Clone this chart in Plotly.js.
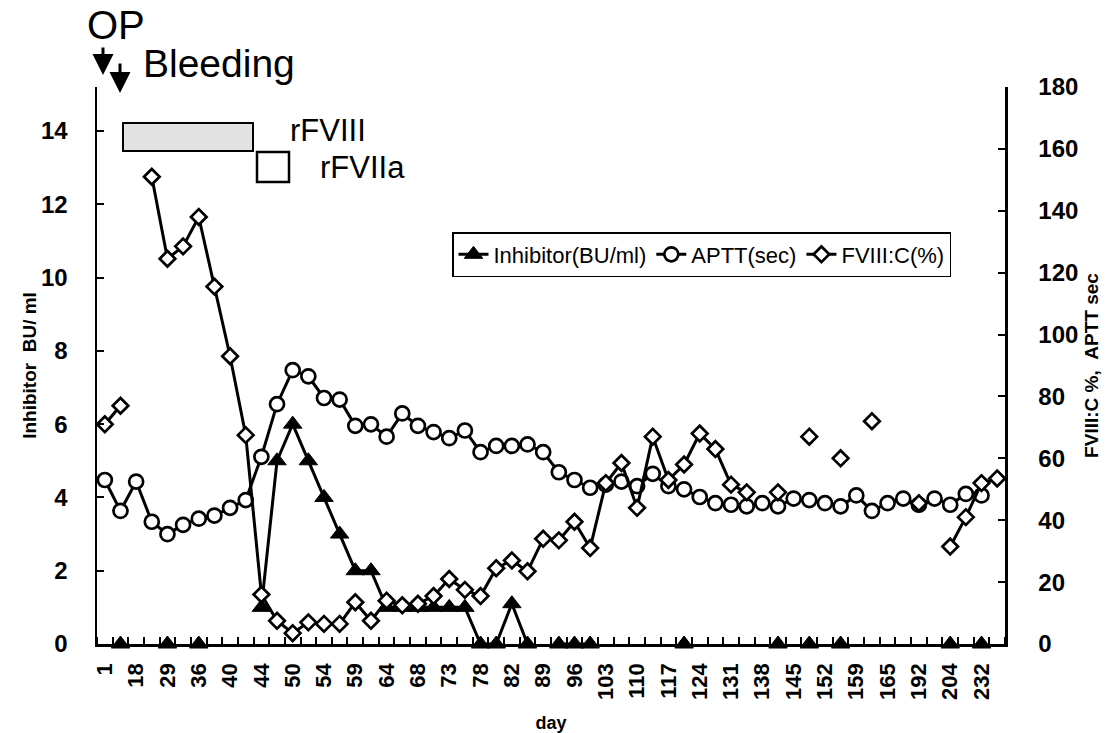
<!DOCTYPE html>
<html>
<head>
<meta charset="utf-8">
<script src="https://cdn.plot.ly/plotly-3.0.1.min.js"></script>
<style>html,body{margin:0;padding:0;background:#fff;}#chart{width:1107px;height:733px;}</style>
</head>
<body>
<div id="chart"></div>
<script>
// Tick labels shown under every other category (day)
const dayLabels = ['1','18','29','36','40','44','50','54','59','64','68','73','78','82','89','96','103','110','117','124','131','138','145','152','159','165','192','204','232'];

// Inhibitor (BU/ml), one value per category slot (null = not measured)
const inhibitor = [null,0,null,null,0,null,0,null,null,null,
  1,5,6,5,4,3,2,2,1,1,
  1,1,1,1,0,0,1.1,0,null,0,
  0,0,null,null,null,null,null,0,null,null,
  null,null,null,0,null,0,null,0,null,null,
  null,null,null,null,0,null,0,null];

// APTT (sec)
const aptt = [53,43,52.5,39.5,35.5,38.5,40.5,41.5,44,46.5,
  60.5,77.5,88.5,86.5,79.5,79,70.5,71,67,74.5,
  70.5,68.5,66.5,69,62,64,64,64.5,62,55.5,
  53,50.5,51.5,52.5,51,55,51,50,47.5,45.5,
  45,44.5,45.5,44.5,47,46.5,45.5,44.5,48,43,
  45.5,47,45,47,45,48.5,48,null];

// FVIII:C (%)
const fviii = [71,77,null,151,124.5,128.5,138,115.5,93,67.5,
  16,7.5,3.5,7,6.5,6.5,13.5,7.5,14,12.5,
  13,15.5,21,17.5,15.5,24.5,27,23.5,34,33.5,
  39.5,31,52,58.5,44,67,53,58,68,63,
  51.5,49,null,49,null,67,null,60,null,72,
  null,null,45.5,null,31.5,41,52,53.5];

const xIdx = inhibitor.map((_, i) => i);
const labelPos = dayLabels.map((_, k) => 2 * k);

const FONT = 'Liberation Sans, Arial, Helvetica, sans-serif';

// pixel -> paper helpers (plot area: x 97..1005, y 87..644)
const L = 97, R = 1005, T = 87, B = 644;
const px = v => (v - L) / (R - L);
const py = v => (B - v) / (B - T);

const traces = [
  {x: xIdx, y: aptt, name: 'APTT(sec)', yaxis: 'y2', mode: 'lines+markers', legendrank: 2,
   cliponaxis: false,
   line: {color: '#000', width: 3},
   marker: {symbol: 'circle', size: 14, color: '#fff', line: {color: '#000', width: 2.7}}},
  {x: xIdx, y: fviii, name: 'FVIII:C(%)', yaxis: 'y2', mode: 'lines+markers', legendrank: 3,
   cliponaxis: false,
   line: {color: '#000', width: 3},
   marker: {symbol: 'diamond', size: 12, color: '#fff', line: {color: '#000', width: 2.7}}},
  {x: xIdx, y: inhibitor, name: 'Inhibitor(BU/ml)', yaxis: 'y', mode: 'lines+markers', legendrank: 1,
   cliponaxis: false,
   line: {color: '#000', width: 3},
   marker: {symbol: 'triangle-up', size: 16, color: '#000', line: {color: '#000', width: 1}}}
];

const layout = {
  width: 1107, height: 733,
  margin: {l: L, r: 1107 - R, t: T, b: 733 - B, pad: 0},
  paper_bgcolor: '#fff', plot_bgcolor: '#fff',
  font: {family: FONT, color: '#000'},
  showlegend: true,
  legend: {orientation: 'h', x: px(452), y: py(232), xanchor: 'left', yanchor: 'top',
    bgcolor: '#fff', bordercolor: '#000', borderwidth: 1.5,
    font: {family: FONT, size: 22, color: '#000'}, itemwidth: 30, tracegroupgap: 0},
  xaxis: {
    range: [-0.5, xIdx.length - 0.5],
    tickmode: 'array', tickvals: labelPos, ticktext: dayLabels,
    tickangle: -90, ticks: '', ticklabelstandoff: 8,
    tickfont: {family: FONT, size: 22, weight: 'bold', color: '#000'},
    showline: true, linecolor: '#000', linewidth: 2.5, showgrid: false, zeroline: false,
    minor: {tickmode: 'linear', tick0: -0.5, dtick: 1, ticks: 'inside', ticklen: 7, tickwidth: 2, tickcolor: '#000', showgrid: false},
    title: {text: 'day', font: {family: FONT, size: 18, weight: 'bold', color: '#000'}, standoff: 18}
  },
  yaxis: {
    range: [0, 15.2], tickmode: 'array', tickvals: [0,2,4,6,8,10,12,14],
    ticks: 'inside', ticklen: 7, tickwidth: 2, tickcolor: '#000',
    ticklabelstandoff: 22,
    tickfont: {family: FONT, size: 24, weight: 'bold', color: '#000'},
    showline: true, linecolor: '#000', linewidth: 2.5, showgrid: false, zeroline: false,
    title: {text: 'Inhibitor\u00a0\u00a0BU/\u00a0ml', font: {family: FONT, size: 19, weight: 'bold', color: '#000'}, standoff: 0}
  },
  yaxis2: {
    range: [0, 180], overlaying: 'y', side: 'right', tickmode: 'array',
    tickvals: [0,20,40,60,80,100,120,140,160,180],
    ticks: 'inside', ticklen: 7, tickwidth: 2, tickcolor: '#000',
    ticklabelstandoff: 26,
    tickfont: {family: FONT, size: 24, weight: 'bold', color: '#000'},
    showline: true, linecolor: '#000', linewidth: 2.5, showgrid: false, zeroline: false,
    title: {text: 'FVIII:C\u00a0%,\u00a0\u00a0APTT\u00a0sec', font: {family: FONT, size: 19, weight: 'bold', color: '#000'}, standoff: 8}
  },
  shapes: [
    {type: 'rect', xref: 'paper', yref: 'paper', x0: px(123), x1: px(253), y0: py(151), y1: py(123),
     fillcolor: '#e2e2e2', line: {color: '#000', width: 2}},
    {type: 'rect', xref: 'paper', yref: 'paper', x0: px(257), x1: px(289), y0: py(182), y1: py(152),
     fillcolor: '#fff', line: {color: '#000', width: 2.5}}
  ],
  annotations: [
    {text: 'OP', xref: 'paper', yref: 'paper', x: px(85), y: py(25), xanchor: 'left', yanchor: 'middle',
     showarrow: false, font: {family: FONT, size: 40, color: '#000'}},
    {text: 'Bleeding', xref: 'paper', yref: 'paper', x: px(141), y: py(64), xanchor: 'left', yanchor: 'middle',
     showarrow: false, font: {family: FONT, size: 39, color: '#000'}},
    {text: 'rFVIII', xref: 'paper', yref: 'paper', x: px(288), y: py(130), xanchor: 'left', yanchor: 'middle',
     showarrow: false, font: {family: FONT, size: 31, color: '#000'}},
    {text: 'rFVIIa', xref: 'paper', yref: 'paper', x: px(318), y: py(167), xanchor: 'left', yanchor: 'middle',
     showarrow: false, font: {family: FONT, size: 31, color: '#000'}},
    {text: '', xref: 'paper', yref: 'paper', x: px(103), y: py(75), ax: 0, ay: -29,
     showarrow: true, arrowhead: 2, arrowsize: 1.4, arrowwidth: 3, arrowcolor: '#000', standoff: 0},
    {text: '', xref: 'paper', yref: 'paper', x: px(120), y: py(93), ax: 0, ay: -31,
     showarrow: true, arrowhead: 2, arrowsize: 1.4, arrowwidth: 3, arrowcolor: '#000', standoff: 0}
  ]
};

Plotly.newPlot('chart', traces, layout, {staticPlot: true, displayModeBar: false});
</script>
</body>
</html>
